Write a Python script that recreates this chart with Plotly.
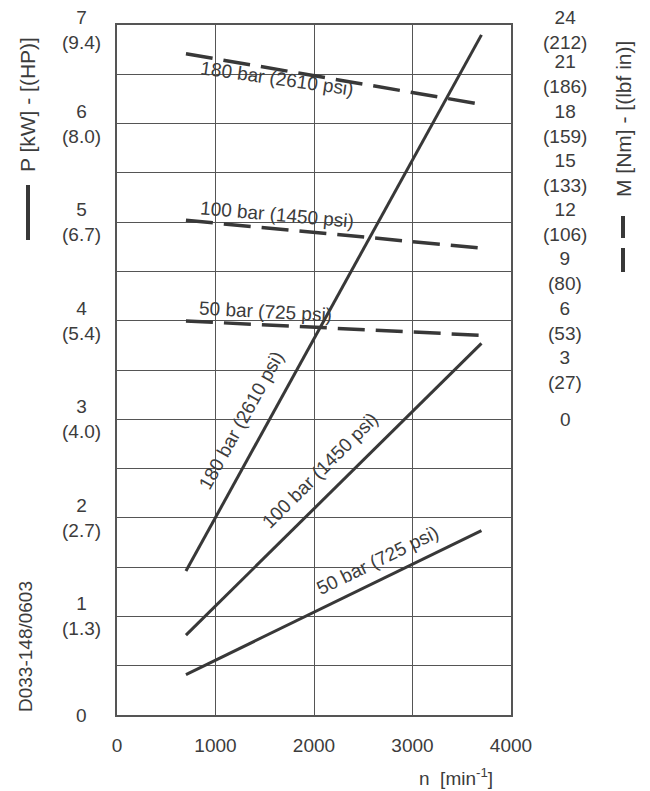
import plotly.graph_objects as go

# ---------------- data ----------------
speed = [700, 3700]                       # n [min^-1]
pressures = ["50 bar (725 psi)", "100 bar (1450 psi)", "180 bar (2610 psi)"]
power_kw = {                              # P [kW]
    "50 bar (725 psi)": [0.41, 1.87],
    "100 bar (1450 psi)": [0.81, 3.77],
    "180 bar (2610 psi)": [1.46, 6.90],
}
torque_nm = {                             # M [Nm]
    "50 bar (725 psi)": [5.98, 5.11],
    "100 bar (1450 psi)": [12.11, 10.42],
    "180 bar (2610 psi)": [22.25, 19.17],
}
x_ticks = [0, 1000, 2000, 3000, 4000]
p_ticks = [0, 1, 2, 3, 4, 5, 6, 7]
p_labels = ["0", "1<br>(1.3)", "2<br>(2.7)", "3<br>(4.0)", "4<br>(5.4)",
            "5<br>(6.7)", "6<br>(8.0)", "7<br>(9.4)"]
m_ticks = [0, 3, 6, 9, 12, 15, 18, 21, 24]
m_labels = ["0", "3<br>(27)", "6<br>(53)", "9<br>(80)", "12<br>(106)",
            "15<br>(133)", "18<br>(159)", "21<br>(186)", "24<br>(212)"]

# label placement (data coords on left axis) and angles
power_label_pos = {
    "50 bar (725 psi)": (2640, 1.57, -26),
    "100 bar (1450 psi)": (2061, 2.48, -45),
    "180 bar (2610 psi)": (1259, 2.99, -61),
}
torque_label_pos = {
    "50 bar (725 psi)": (1503, 4.09, 3),
    "100 bar (1450 psi)": (1624, 5.08, 5),
    "180 bar (2610 psi)": (1629, 6.46, 8),
}

FONT = "Liberation Sans, Arial, sans-serif"
TXT = "#3c3c3c"
LINE = "#383838"
FS = 19

fig = go.Figure()
for p in pressures:
    fig.add_trace(go.Scatter(x=speed, y=power_kw[p], mode="lines",
                             line=dict(color=LINE, width=3), yaxis="y",
                             showlegend=False, hoverinfo="skip"))
    fig.add_trace(go.Scatter(x=speed, y=torque_nm[p], mode="lines",
                             line=dict(color=LINE, width=3.5, dash="27px,11px"),
                             yaxis="y2", showlegend=False, hoverinfo="skip"))

ann = []
for p in pressures:
    x, y, a = power_label_pos[p]
    ann.append(dict(x=x, y=y, xref="x", yref="y", text=p, showarrow=False,
                    textangle=a, xanchor="center", yanchor="middle",
                    font=dict(family=FONT, size=FS, color=TXT)))
    x, y, a = torque_label_pos[p]
    ann.append(dict(x=x, y=y, xref="x", yref="y", text=p, showarrow=False,
                    textangle=a, xanchor="center", yanchor="middle",
                    font=dict(family=FONT, size=FS, color=TXT)))

# page has an 8px body margin; positions below are reference pixels
OFF = 8
W, H = 650 - OFF, 791 - OFF
L, R, T, B = 117, 511, 25, 715
def px(xp):
    return (xp - L) / (R - L)
def py(yp):
    return (B - yp) / (B - T)

for v, lab in zip(p_ticks, p_labels):
    ann.append(dict(x=px(81), y=v, xref="paper", yref="y", text=lab,
                    showarrow=False, xanchor="center", yanchor="middle",
                    yshift=-5 if v == p_ticks[-1] else 0,
                    align="center", font=dict(family=FONT, size=FS, color=TXT)))
for v, lab in zip(m_ticks, m_labels):
    ann.append(dict(x=px(565), y=v, xref="paper", yref="y2", text=lab,
                    showarrow=False, xanchor="center", yanchor="middle",
                    yshift=-5 if v == m_ticks[-1] else 0,
                    align="center", font=dict(family=FONT, size=FS, color=TXT)))

# axis titles
def free_text(xp, yp, text, angle=0, size=FS):
    return dict(x=px(xp), y=py(yp), xref="paper", yref="paper", text=text,
                textangle=angle, showarrow=False, xanchor="center",
                yanchor="middle", font=dict(family=FONT, size=size, color=TXT))

ann.append(free_text(28, 105, "P [kW] - [(HP)]", -90, 21))
ann.append(free_text(623, 119, "M [Nm] - [(lbf in)]", -90, 21))
ann.append(free_text(25, 647, "D033-148/0603", -90, 19))
ann.append(free_text(456, 777, "n  [min<sup>-1</sup>]"))

shapes = [
    dict(type="line", xref="paper", yref="paper", x0=px(28), x1=px(28),
         y0=py(185), y1=py(240), line=dict(color=LINE, width=4)),
    dict(type="line", xref="paper", yref="paper", x0=px(623), x1=px(623),
         y0=py(216), y1=py(238), line=dict(color=LINE, width=4)),
    dict(type="line", xref="paper", yref="paper", x0=px(623), x1=px(623),
         y0=py(248), y1=py(272), line=dict(color=LINE, width=4)),
]

fig.update_layout(
    width=W, height=H,
    margin=dict(l=L - OFF, r=650 - R, t=T - OFF, b=791 - B),
    paper_bgcolor="white", plot_bgcolor="white",
    showlegend=False,
    annotations=ann, shapes=shapes,
    xaxis=dict(range=[0, 4000], tickvals=x_ticks, ticktext=[str(t) for t in x_ticks],
               showgrid=True, gridcolor="#555555", gridwidth=1,
               showline=True, linecolor="#555555", linewidth=1.5, mirror=True,
               ticks="", zeroline=False, ticklabelstandoff=12,
               tickfont=dict(family=FONT, size=FS, color=TXT)),
    yaxis=dict(range=[0, 7], dtick=0.5, tick0=0, showticklabels=False,
               showgrid=True, gridcolor="#555555", gridwidth=1,
               showline=True, linecolor="#555555", linewidth=1.5, mirror=True,
               ticks="", zeroline=False),
    yaxis2=dict(range=[-18, 24], overlaying="y", side="right",
                showticklabels=False, showgrid=False, zeroline=False, ticks=""),
)

fig.write_html("out.html")
